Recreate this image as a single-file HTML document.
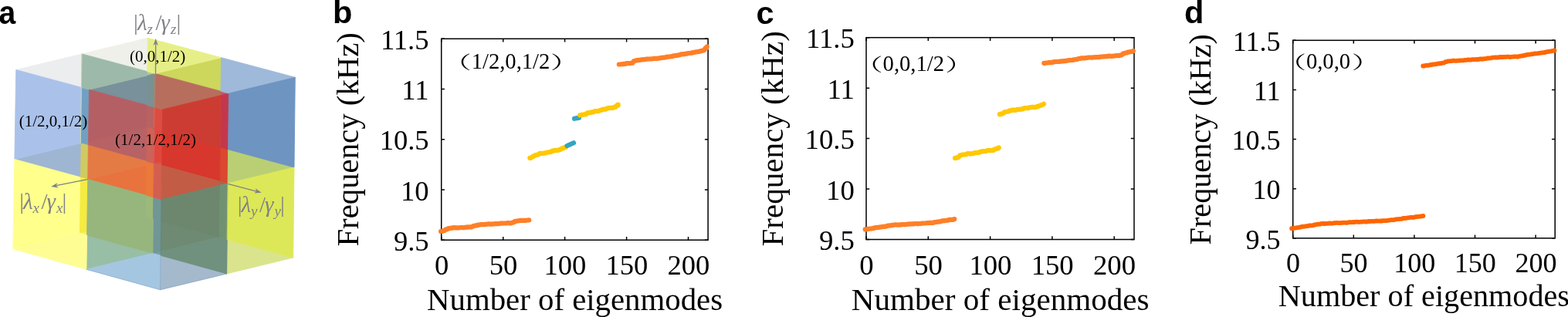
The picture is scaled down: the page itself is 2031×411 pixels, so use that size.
<!DOCTYPE html>
<html lang="en">
<head>
<meta charset="utf-8">
<title>Figure</title>
<style>
html,body{margin:0;padding:0;background:#fff;}
body{width:2031px;height:411px;overflow:hidden;}
svg{display:block;}
text{white-space:pre;}
</style>
</head>
<body>
<svg width="2031" height="411" viewBox="0 0 2031 411">
<rect width="2031" height="411" fill="#fff"/>
<g id="panel-a">
<g stroke-linejoin="round">
<polygon points="114.5,183.3 104.3,185.8 114.4,188.5" fill="rgb(118,160,193)" stroke="rgb(118,160,193)" stroke-width="0.9"/>
<polygon points="112.7,299.6 102.5,302.1 112.6,304.9" fill="rgb(245,240,100)" stroke="rgb(245,240,100)" stroke-width="0.9"/>
<polygon points="190.8,92.7 190.7,97.9 201.0,95.4" fill="rgb(185,200,150)" stroke="rgb(185,200,150)" stroke-width="0.9"/>
<polygon points="189.2,208.9 189.1,214.2 199.4,211.7" fill="rgb(234,120,58)" stroke="rgb(234,120,58)" stroke-width="0.9"/>
<polygon points="209.8,209.2 199.4,211.7 209.7,214.5" fill="rgb(215,85,70)" stroke="rgb(215,85,70)" stroke-width="0.9"/>
<polygon points="208.2,325.9 197.8,328.4 208.1,331.3" fill="rgb(120,158,165)" stroke="rgb(120,158,165)" stroke-width="0.9"/>
<polygon points="286.0,118.3 286.0,123.7 296.5,121.1" fill="rgb(190,90,100)" stroke="rgb(190,90,100)" stroke-width="0.9"/>
<polygon points="284.6,235.0 284.5,240.4 295.1,237.8" fill="rgb(150,110,90)" stroke="rgb(150,110,90)" stroke-width="0.9"/>
<polygon points="188.5,253.0 188.1,281.4 198.4,284.2 198.8,255.8" fill="rgb(155,185,122)" stroke="rgb(155,185,122)" stroke-width="0.9"/>
<polygon points="198.4,284.2 208.7,287.0 209.1,258.6 198.8,255.8" fill="rgb(112,150,150)" stroke="rgb(112,150,150)" stroke-width="0.9"/>
<polygon points="190.2,136.4 189.8,165.1 200.0,167.9 200.4,139.2" fill="rgb(185,98,98)" stroke="rgb(185,98,98)" stroke-width="0.9"/>
<polygon points="200.0,167.9 210.3,170.7 210.7,141.9 200.4,139.2" fill="rgb(222,75,65)" stroke="rgb(222,75,65)" stroke-width="0.9"/>
<polygon points="190.7,97.9 190.2,136.4 200.4,139.2 201.0,95.4" fill="rgb(119,146,146)" stroke="rgb(119,146,146)" stroke-width="0.9"/>
<polygon points="210.3,170.7 200.0,167.9 199.4,211.7 209.8,209.2" fill="rgb(225,70,60)" stroke="rgb(225,70,60)" stroke-width="0.9"/>
<polygon points="189.1,214.2 188.5,253.0 198.8,255.8 199.4,211.7" fill="rgb(235,121,57)" stroke="rgb(235,121,57)" stroke-width="0.9"/>
<polygon points="208.7,287.0 198.4,284.2 197.8,328.4 208.2,325.9" fill="rgb(112,150,150)" stroke="rgb(112,150,150)" stroke-width="0.9"/>
<polygon points="104.3,185.8 103.6,229.7 113.7,232.5 114.4,188.5" fill="rgb(208,202,98)" stroke="rgb(208,202,98)" stroke-width="0.9"/>
<polygon points="189.8,165.1 189.2,208.9 199.4,211.7 200.0,167.9" fill="rgb(205,98,88)" stroke="rgb(205,98,88)" stroke-width="0.9"/>
<polygon points="199.4,211.7 198.8,255.8 209.1,258.6 209.7,214.5" fill="rgb(210,95,80)" stroke="rgb(210,95,80)" stroke-width="0.9"/>
<polygon points="285.1,191.0 284.6,235.0 295.1,237.8 295.6,193.8" fill="rgb(218,72,48)" stroke="rgb(218,72,48)" stroke-width="0.9"/>
<polygon points="104.3,185.8 114.5,183.3 115.5,116.2 105.4,113.4" fill="rgb(113,160,195)" stroke="rgb(113,160,195)" stroke-width="0.9"/>
<polygon points="102.5,302.1 112.7,299.6 113.7,232.5 103.6,229.7" fill="rgb(245,235,65)" stroke="rgb(245,235,65)" stroke-width="0.9"/>
<polygon points="286.0,123.7 285.1,191.0 295.6,193.8 296.5,121.1" fill="rgb(195,55,78)" stroke="rgb(195,55,78)" stroke-width="0.9"/>
<polygon points="283.6,307.6 294.1,310.5 295.1,237.8 284.5,240.4" fill="rgb(113,146,114)" stroke="rgb(113,146,114)" stroke-width="0.9"/>
<polygon points="190.2,136.4 190.7,97.9 115.5,116.2" fill="rgb(120,145,155)" stroke="rgb(120,145,155)" stroke-width="0.9"/>
<polygon points="285.1,191.0 210.3,170.7 209.8,209.2" fill="rgb(215,55,45)" stroke="rgb(215,55,45)" stroke-width="0.9"/>
<polygon points="188.5,253.0 189.1,214.2 113.7,232.5" fill="rgb(232,115,62)" stroke="rgb(232,115,62)" stroke-width="0.9"/>
<polygon points="283.6,307.6 208.7,287.0 208.2,325.9" fill="rgb(110,138,114)" stroke="rgb(110,138,114)" stroke-width="0.9"/>
<polygon points="189.2,208.9 189.8,165.1 114.5,183.3 114.4,188.5" fill="rgb(184,98,102)" stroke="rgb(184,98,102)" stroke-width="0.9"/>
<polygon points="190.8,92.7 191.4,49.2 106.1,69.9" fill="rgb(239,240,233)" stroke="rgb(239,240,233)" stroke-width="0.9"/>
<polygon points="189.1,214.2 189.2,208.9 114.4,188.5 113.7,232.5" fill="rgb(228,122,68)" stroke="rgb(228,122,68)" stroke-width="0.9"/>
<polygon points="106.1,69.9 20.8,90.5 105.4,113.4" fill="rgb(236,237,239)" stroke="rgb(236,237,239)" stroke-width="0.9"/>
<polygon points="284.6,235.0 285.1,191.0 209.8,209.2 209.7,214.5" fill="rgb(215,55,45)" stroke="rgb(215,55,45)" stroke-width="0.9"/>
<polygon points="284.5,240.4 284.6,235.0 209.7,214.5 209.1,258.6" fill="rgb(195,92,68)" stroke="rgb(195,92,68)" stroke-width="0.9"/>
<polygon points="286.0,118.3 286.6,74.7 201.0,95.4" fill="rgb(204,215,92)" stroke="rgb(204,215,92)" stroke-width="0.9"/>
<polygon points="104.3,185.8 18.9,206.5 103.6,229.7" fill="rgb(158,182,210)" stroke="rgb(158,182,210)" stroke-width="0.9"/>
<polygon points="381.0,217.0 295.6,193.8 295.1,237.8" fill="rgb(186,207,116)" stroke="rgb(186,207,116)" stroke-width="0.9"/>
<polygon points="197.8,328.4 112.6,304.9 111.9,349.2" fill="rgb(152,190,165)" stroke="rgb(152,190,165)" stroke-width="0.9"/>
<polygon points="379.7,334.0 294.1,310.5 293.6,354.9" fill="rgb(218,228,140)" stroke="rgb(218,228,140)" stroke-width="0.9"/>
<polygon points="293.6,354.9 208.1,331.3 207.5,375.7" fill="rgb(165,185,205)" stroke="rgb(165,185,205)" stroke-width="0.9"/>
<polygon points="190.7,97.9 190.8,92.7 106.1,69.9 105.4,113.4 115.5,116.2" fill="rgb(157,185,170)" stroke="rgb(157,185,170)" stroke-width="0.9"/>
<polygon points="286.0,123.7 286.0,118.3 201.0,95.4 200.4,139.2 210.7,141.9" fill="rgb(183,110,92)" stroke="rgb(183,110,92)" stroke-width="0.9"/>
<polygon points="191.4,49.2 190.8,92.7 201.0,95.4 286.6,74.7" fill="rgb(230,239,135)" stroke="rgb(230,239,135)" stroke-width="0.9"/>
<polygon points="198.4,284.2 188.1,281.4 112.7,299.6 112.6,304.9 197.8,328.4" fill="rgb(150,182,125)" stroke="rgb(150,182,125)" stroke-width="0.9"/>
<polygon points="286.6,74.7 286.0,118.3 296.5,121.1 382.3,100.3" fill="rgb(158,185,218)" stroke="rgb(158,185,218)" stroke-width="0.9"/>
<polygon points="102.5,302.1 16.9,322.8 111.9,349.2 112.6,304.9" fill="rgb(253,253,148)" stroke="rgb(253,253,148)" stroke-width="0.9"/>
<polygon points="294.1,310.5 283.6,307.6 208.2,325.9 208.1,331.3 293.6,354.9" fill="rgb(111,145,125)" stroke="rgb(111,145,125)" stroke-width="0.9"/>
<polygon points="208.1,331.3 197.8,328.4 111.9,349.2 207.5,375.7" fill="rgb(165,198,225)" stroke="rgb(165,198,225)" stroke-width="0.9"/>
<polygon points="188.1,281.4 188.5,253.0 113.7,232.5 112.7,299.6" fill="rgb(150,182,125)" stroke="rgb(150,182,125)" stroke-width="0.9"/>
<polygon points="208.7,287.0 283.6,307.6 284.5,240.4 209.1,258.6" fill="rgb(108,135,110)" stroke="rgb(108,135,110)" stroke-width="0.9"/>
<polygon points="189.8,165.1 190.2,136.4 115.5,116.2 114.5,183.3" fill="rgb(180,95,100)" stroke="rgb(180,95,100)" stroke-width="0.9"/>
<polygon points="210.3,170.7 285.1,191.0 286.0,123.7 210.7,141.9" fill="rgb(205,60,50)" stroke="rgb(205,60,50)" stroke-width="0.9"/>
<polygon points="18.9,206.5 104.3,185.8 105.4,113.4 20.8,90.5" fill="rgb(170,194,234)" stroke="rgb(170,194,234)" stroke-width="0.9"/>
<polygon points="16.9,322.8 102.5,302.1 103.6,229.7 18.9,206.5" fill="rgb(255,255,140)" stroke="rgb(255,255,140)" stroke-width="0.9"/>
<polygon points="295.6,193.8 381.0,217.0 382.3,100.3 296.5,121.1" fill="rgb(110,148,193)" stroke="rgb(110,148,193)" stroke-width="0.9"/>
<polygon points="294.1,310.5 379.7,334.0 381.0,217.0 295.1,237.8" fill="rgb(220,232,88)" stroke="rgb(220,232,88)" stroke-width="0.9"/>
</g>
<g fill="none" stroke-linecap="round"><path d="M209.1 258.6L207.5 375.7" stroke="#5a7d96" stroke-opacity="0.45" stroke-width="0.7"/><path d="M111.9 349.2L207.5 375.7L293.6 354.9" stroke="#6f95bd" stroke-opacity="0.5" stroke-width="0.7"/><path d="M293.6 354.9L295.1 237.8" stroke="#5a7d8a" stroke-opacity="0.35" stroke-width="0.7"/><path d="M106.1 69.9L104.3 185.8" stroke="#e8e88a" stroke-opacity="0.8" stroke-width="0.7"/><path d="M201.0 96.5L199.6 165" stroke="#e09060" stroke-opacity="0.6" stroke-width="0.6"/></g>
<line x1="201.5" y1="96.0" x2="201.7" y2="56.5" stroke="#808086" stroke-width="1.3"/>
<polygon points="201.7,50.0 204.9,59.0 201.7,56.5 198.5,59.0" fill="#808086"/>
<line x1="113.0" y1="232.7" x2="72.6" y2="240.7" stroke="#808086" stroke-width="1.3"/>
<polygon points="66.2,242.0 74.4,237.1 72.6,240.7 75.7,243.4" fill="#808086"/>
<line x1="295.2" y1="238.3" x2="332.4" y2="248.1" stroke="#808086" stroke-width="1.3"/>
<polygon points="338.7,249.7 329.2,250.5 332.4,248.1 330.8,244.3" fill="#808086"/>
<g font-family='"Liberation Serif", serif' fill="#808086"><text x="173.1" y="39.3" font-size="29">|</text><text x="177.9" y="39.3" font-size="29" font-style="italic">λ</text><text x="190.4" y="43.8" font-size="19" font-style="italic">z</text><text x="201.4" y="39.3" font-size="29">/</text><text x="208.4" y="39.3" font-size="29" font-style="italic">γ</text><text x="220.9" y="43.8" font-size="19" font-style="italic">z</text><text x="228.4" y="39.3" font-size="29">|</text></g>
<g font-family='"Liberation Serif", serif' fill="#808086"><text x="25.2" y="271.3" font-size="29">|</text><text x="30.0" y="271.3" font-size="29" font-style="italic">λ</text><text x="42.5" y="275.8" font-size="19" font-style="italic">x</text><text x="53.5" y="271.3" font-size="29">/</text><text x="60.5" y="271.3" font-size="29" font-style="italic">γ</text><text x="73.0" y="275.8" font-size="19" font-style="italic">x</text><text x="80.5" y="271.3" font-size="29">|</text></g>
<g font-family='"Liberation Serif", serif' fill="#808086"><text x="307.7" y="275.3" font-size="29">|</text><text x="312.5" y="275.3" font-size="29" font-style="italic">λ</text><text x="325.0" y="279.8" font-size="19" font-style="italic">y</text><text x="336.0" y="275.3" font-size="29">/</text><text x="343.0" y="275.3" font-size="29" font-style="italic">γ</text><text x="355.5" y="279.8" font-size="19" font-style="italic">y</text><text x="363.0" y="275.3" font-size="29">|</text></g>
<text x="168" y="79.8" font-family='"Liberation Serif", serif' font-size="21" fill="#000">(0,0,1/2)</text>
<text x="24.7" y="164.1" font-family='"Liberation Serif", serif' font-size="21" fill="#000">(1/2,0,1/2)</text>
<text x="149.1" y="187.5" font-family='"Liberation Serif", serif' font-size="21" fill="#000">(1/2,1/2,1/2)</text>
<text transform="translate(-1.4 30.7) scale(0.93 1)" font-family='"Liberation Sans", sans-serif' font-weight="bold" font-size="42" fill="#000">a</text>
</g>
<g id="panel-b">
<text x="431" y="30.4" font-family='"Liberation Sans", sans-serif' font-weight="bold" font-size="41.5" fill="#000">b</text>
<rect x="571.7" y="50.3" width="345.4" height="260.9" fill="none" stroke="#000" stroke-width="1.5"/>
<path d="M571.7 311.2v-4.2M571.7 50.3v4.2M651.7 311.2v-4.2M651.7 50.3v4.2M731.6 311.2v-4.2M731.6 50.3v4.2M811.6 311.2v-4.2M811.6 50.3v4.2M891.5 311.2v-4.2M891.5 50.3v4.2M571.7 50.3h4.2M917.1 50.3h-4.2M571.7 115.5h4.2M917.1 115.5h-4.2M571.7 180.8h4.2M917.1 180.8h-4.2M571.7 246.0h4.2M917.1 246.0h-4.2M571.7 311.2h4.2M917.1 311.2h-4.2" stroke="#000" stroke-width="1.5" fill="none"/>
<polyline points="571.0,300.0 572.6,300.0 574.2,299.0 575.8,299.0 577.4,297.4 579.0,297.4 580.6,296.2 582.2,296.2 583.8,295.7 585.4,295.7 587.0,295.2 588.6,295.2 590.2,295.4 591.8,295.4 593.4,295.3 595.0,295.3 596.6,295.0 598.2,295.0 599.8,295.1 601.4,295.1 603.0,294.7 604.6,294.7 606.2,294.4 607.8,294.4 609.4,294.4 611.0,294.4 612.6,293.1 614.2,293.1 615.8,292.3 617.4,292.3 619.0,291.6 620.6,291.6 622.2,291.1 623.8,291.1 625.4,291.1 627.0,291.1 628.6,290.8 630.2,290.8 631.8,290.4 633.4,290.4 635.0,290.7 636.6,290.7 638.2,290.3 639.8,290.3 641.4,290.2 643.0,290.2 644.6,290.1 646.2,290.1 647.8,289.6 649.4,289.6 651.0,289.5 652.6,289.5 654.2,289.5 655.8,289.5 657.4,289.1 659.0,289.1 660.6,289.3 662.2,289.3 663.8,288.4 665.4,288.4 667.0,286.8 668.6,286.8 670.2,286.4 671.8,286.4 673.4,285.9 675.0,285.9 676.6,285.8 678.2,285.8 679.8,285.8 681.4,285.8 683.0,285.5 684.6,285.5 685.3,285.3" fill="none" stroke="#ff7f27" stroke-width="6.2" stroke-linecap="round" stroke-linejoin="round"/>
<polyline points="686.3,204.8 687.9,204.8 689.5,203.0 691.1,203.0 692.7,201.3 694.3,201.3 695.9,200.5 697.5,200.5 699.1,198.8 700.7,198.8 702.3,198.8 703.9,198.8 705.5,198.4 707.1,198.4 708.7,197.5 710.3,197.5 711.9,197.1 713.5,197.1 715.1,195.7 716.7,195.7 718.3,194.8 719.9,194.8 721.5,194.8 723.1,194.8 724.7,193.8 726.3,193.8 727.9,192.3 729.5,192.3 731.1,191.0 732.7,191.0 733.0,190.4" fill="none" stroke="#ffc800" stroke-width="6.2" stroke-linecap="round" stroke-linejoin="round"/>
<polyline points="734.6,189.0 743.0,185.2" fill="none" stroke="#32a5c3" stroke-width="6.2" stroke-linecap="round" stroke-linejoin="round"/>
<polyline points="744.0,153.8 750.0,152.6" fill="none" stroke="#32a5c3" stroke-width="6.2" stroke-linecap="round" stroke-linejoin="round"/>
<polyline points="751.2,149.4 752.8,149.4 754.4,148.6 756.0,148.6 757.6,148.1 759.2,148.1 760.8,146.4 762.4,146.4 764.0,145.8 765.6,145.8 767.2,145.3 768.8,145.3 770.4,144.1 772.0,144.1 773.6,144.1 775.2,144.1 776.8,143.1 778.4,143.1 780.0,141.9 781.6,141.9 783.2,141.7 784.8,141.7 786.4,140.3 788.0,140.3 789.6,139.8 791.2,139.8 792.8,139.8 794.4,139.8 796.0,138.6 797.6,138.6 799.2,136.5 800.6,136.5 800.6,135.5" fill="none" stroke="#ffc800" stroke-width="6.2" stroke-linecap="round" stroke-linejoin="round"/>
<polyline points="801.8,83.5 803.4,83.5 805.0,83.2 806.6,83.2 808.2,82.9 809.8,82.9 811.4,82.2 813.0,82.2 814.6,82.0 816.2,82.0 817.8,81.7 819.4,81.7 821.0,79.0 822.6,79.0 824.2,78.2 825.8,78.2 827.4,77.8 829.0,77.8 830.6,77.4 832.2,77.4 833.8,77.2 835.4,77.2 837.0,76.6 838.6,76.6 840.2,76.5 841.8,76.5 843.4,76.4 845.0,76.4 846.6,75.9 848.2,75.9 849.8,75.9 851.4,75.9 853.0,75.5 854.6,75.5 856.2,74.9 857.8,74.9 859.4,74.7 861.0,74.7 862.6,73.9 864.2,73.9 865.8,73.5 867.4,73.5 869.0,73.2 870.6,73.2 872.2,72.3 873.8,72.3 875.4,71.9 877.0,71.9 878.6,71.3 880.2,71.3 881.8,70.4 883.4,70.4 885.0,70.2 886.6,70.2 888.2,69.6 889.8,69.6 891.4,69.0 893.0,69.0 894.6,68.7 896.2,68.7 897.8,67.9 899.4,67.9 901.0,67.3 902.6,67.3 904.2,66.9 905.8,66.9 907.4,66.1 909.0,66.1 910.6,65.2 912.2,65.2 913.8,62.1 915.4,62.1 915.7,60.4" fill="none" stroke="#ff7f27" stroke-width="6.2" stroke-linecap="round" stroke-linejoin="round"/>
<g font-family='"Liberation Serif", "Noto Serif CJK SC", serif' font-size="36.5" fill="#000">
<text x="572.0" y="356.4" text-anchor="middle">0</text>
<text x="652.0" y="356.4" text-anchor="middle">50</text>
<text x="731.9" y="356.4" text-anchor="middle">100</text>
<text x="811.9" y="356.4" text-anchor="middle">150</text>
<text x="891.8" y="356.4" text-anchor="middle">200</text>
<text x="555.5" y="63.9" text-anchor="end">11.5</text>
<text x="555.5" y="129.1" text-anchor="end">11</text>
<text x="555.5" y="194.3" text-anchor="end">10.5</text>
<text x="555.5" y="259.6" text-anchor="end">10</text>
<text x="555.5" y="324.8" text-anchor="end">9.5</text>
</g>
<text x="553.1" y="401.5" font-family='"Liberation Serif", "Noto Serif CJK SC", serif' font-size="40.8" fill="#000">Number of eigenmodes</text>
<text transform="translate(464.3 319.6) rotate(-90)" font-family='"Liberation Serif", "Noto Serif CJK SC", serif' font-size="40.8" fill="#000">Frequency (kHz)</text>
<text transform="translate(573.8 88.6) scale(1.6 1)" font-family='"Liberation Serif", "Noto Serif CJK SC", serif' font-size="23" fill="#000">（</text>
<text x="610.7" y="88.9" font-family='"Liberation Serif", "Noto Serif CJK SC", serif' font-size="28.6" fill="#000">1/2,0,1/2</text>
<text transform="translate(713.1 88.6) scale(1.6 1)" font-family='"Liberation Serif", "Noto Serif CJK SC", serif' font-size="23" fill="#000">）</text>
</g>
<g id="panel-c">
<text x="979.5" y="30.9" font-family='"Liberation Sans", sans-serif' font-weight="bold" font-size="41.5" fill="#000">c</text>
<rect x="1122" y="48.7" width="347.0" height="261.8" fill="none" stroke="#000" stroke-width="1.5"/>
<path d="M1122.0 310.5v-4.2M1122.0 48.7v4.2M1202.3 310.5v-4.2M1202.3 48.7v4.2M1282.6 310.5v-4.2M1282.6 48.7v4.2M1362.9 310.5v-4.2M1362.9 48.7v4.2M1443.2 310.5v-4.2M1443.2 48.7v4.2M1122 48.7h4.2M1469 48.7h-4.2M1122 114.2h4.2M1469 114.2h-4.2M1122 179.6h4.2M1469 179.6h-4.2M1122 245.1h4.2M1469 245.1h-4.2M1122 310.5h4.2M1469 310.5h-4.2" stroke="#000" stroke-width="1.5" fill="none"/>
<polyline points="1120.7,297.4 1122.3,297.4 1123.9,296.8 1125.5,296.8 1127.1,296.5 1128.7,296.5 1130.3,295.9 1131.9,295.9 1133.5,295.1 1135.1,295.1 1136.7,294.9 1138.3,294.9 1139.9,294.3 1141.5,294.3 1143.1,293.9 1144.7,293.9 1146.3,293.6 1147.9,293.6 1149.5,292.7 1151.1,292.7 1152.7,292.3 1154.3,292.3 1155.9,291.8 1157.5,291.8 1159.1,291.4 1160.7,291.4 1162.3,291.6 1163.9,291.6 1165.5,291.4 1167.1,291.4 1168.7,291.0 1170.3,291.0 1171.9,291.1 1173.5,291.1 1175.1,290.6 1176.7,290.6 1178.3,290.4 1179.9,290.4 1181.5,290.4 1183.1,290.4 1184.7,290.0 1186.3,290.0 1187.9,290.1 1189.5,290.1 1191.1,290.0 1192.7,290.0 1194.3,289.5 1195.9,289.5 1197.5,289.5 1199.1,289.5 1200.7,289.1 1202.3,289.1 1203.9,288.9 1205.5,288.9 1207.1,288.8 1208.7,288.8 1210.3,288.1 1211.9,288.1 1213.5,287.7 1215.1,287.7 1216.7,287.3 1218.3,287.3 1219.9,286.4 1221.5,286.4 1223.1,286.1 1224.7,286.1 1226.3,285.6 1227.9,285.6 1229.5,284.9 1231.1,284.9 1232.7,284.8 1234.3,284.8 1235.9,284.1 1236.3,284.1 1236.3,284.0" fill="none" stroke="#ff7f27" stroke-width="6.2" stroke-linecap="round" stroke-linejoin="round"/>
<polyline points="1237.0,204.9 1238.6,204.9 1240.2,203.8 1241.8,203.8 1243.4,201.3 1245.0,201.3 1246.6,200.5 1248.2,200.5 1249.8,200.3 1251.4,200.3 1253.0,199.1 1254.6,199.1 1256.2,199.4 1257.8,199.4 1259.4,199.0 1261.0,199.0 1262.6,198.0 1264.2,198.0 1265.8,198.0 1267.4,198.0 1269.0,196.8 1270.6,196.8 1272.2,196.1 1273.8,196.1 1275.4,196.2 1277.0,196.2 1278.6,195.2 1280.2,195.2 1281.8,195.2 1283.4,195.2 1285.0,194.9 1286.6,194.9 1288.2,193.4 1289.8,193.4 1291.4,192.4 1293.0,192.4 1293.7,191.5" fill="none" stroke="#ffc800" stroke-width="6.2" stroke-linecap="round" stroke-linejoin="round"/>
<polyline points="1294.9,148.2 1296.5,148.2 1298.1,147.0 1299.7,147.0 1301.3,145.0 1302.9,145.0 1304.5,144.7 1306.1,144.7 1307.7,143.4 1309.3,143.4 1310.9,142.7 1312.5,142.7 1314.1,142.9 1315.7,142.9 1317.3,141.9 1318.9,141.9 1320.5,141.8 1322.1,141.8 1323.7,141.3 1325.3,141.3 1326.9,140.0 1328.5,140.0 1330.1,140.1 1331.7,140.1 1333.3,139.4 1334.9,139.4 1336.5,138.8 1338.1,138.8 1339.7,139.2 1341.3,139.2 1342.9,138.1 1344.5,138.1 1346.1,137.0 1347.7,137.0 1349.3,135.8 1350.9,135.8 1352.0,134.8" fill="none" stroke="#ffc800" stroke-width="6.2" stroke-linecap="round" stroke-linejoin="round"/>
<polyline points="1352.3,81.8 1353.9,81.8 1355.5,81.5 1357.1,81.5 1358.7,81.1 1360.3,81.1 1361.9,80.8 1363.5,80.8 1365.1,80.1 1366.7,80.1 1368.3,80.0 1369.9,80.0 1371.5,79.8 1373.1,79.8 1374.7,79.3 1376.3,79.3 1377.9,79.2 1379.5,79.2 1381.1,78.7 1382.7,78.7 1384.3,78.1 1385.9,78.1 1387.5,78.0 1389.1,78.0 1390.7,77.4 1392.3,77.4 1393.9,76.9 1395.5,76.9 1397.1,76.0 1398.7,76.0 1400.3,75.4 1401.9,75.4 1403.5,75.4 1405.1,75.4 1406.7,75.0 1408.3,75.0 1409.9,74.5 1411.5,74.5 1413.1,74.6 1414.7,74.6 1416.3,74.3 1417.9,74.3 1419.5,74.1 1421.1,74.1 1422.7,74.1 1424.3,74.1 1425.9,73.5 1427.5,73.5 1429.1,73.3 1430.7,73.3 1432.3,73.2 1433.9,73.2 1435.5,72.7 1437.1,72.7 1438.7,72.8 1440.3,72.8 1441.9,72.6 1443.5,72.6 1445.1,72.2 1446.7,72.2 1448.3,72.2 1449.9,72.2 1451.5,71.3 1453.1,71.3 1454.7,69.4 1456.3,69.4 1457.9,68.5 1459.5,68.5 1461.1,67.5 1462.7,67.5 1464.3,67.0 1465.9,67.0 1467.5,66.1 1467.9,66.1 1467.9,66.0" fill="none" stroke="#ff7f27" stroke-width="6.2" stroke-linecap="round" stroke-linejoin="round"/>
<g font-family='"Liberation Serif", "Noto Serif CJK SC", serif' font-size="36.7" fill="#000">
<text x="1122.3" y="355.5" text-anchor="middle">0</text>
<text x="1202.6" y="355.5" text-anchor="middle">50</text>
<text x="1282.9" y="355.5" text-anchor="middle">100</text>
<text x="1363.2" y="355.5" text-anchor="middle">150</text>
<text x="1443.5" y="355.5" text-anchor="middle">200</text>
<text x="1106.8" y="62.4" text-anchor="end">11.5</text>
<text x="1106.8" y="127.9" text-anchor="end">11</text>
<text x="1106.8" y="193.3" text-anchor="end">10.5</text>
<text x="1106.8" y="258.8" text-anchor="end">10</text>
<text x="1106.8" y="324.2" text-anchor="end">9.5</text>
</g>
<text x="1102.8" y="402.2" font-family='"Liberation Serif", "Noto Serif CJK SC", serif' font-size="41.1" fill="#000">Number of eigenmodes</text>
<text transform="translate(1013.7 319.6) rotate(-90)" font-family='"Liberation Serif", "Noto Serif CJK SC", serif' font-size="41.1" fill="#000">Frequency (kHz)</text>
<text transform="translate(1106.8 91.5) scale(1.6 1)" font-family='"Liberation Serif", "Noto Serif CJK SC", serif' font-size="23" fill="#000">（</text>
<text x="1143.6" y="91.8" font-family='"Liberation Serif", "Noto Serif CJK SC", serif' font-size="28.6" fill="#000">0,0,1/2</text>
<text transform="translate(1224.2 91.5) scale(1.6 1)" font-family='"Liberation Serif", "Noto Serif CJK SC", serif' font-size="23" fill="#000">）</text>
</g>
<g id="panel-d">
<text x="1534" y="30.4" font-family='"Liberation Sans", sans-serif' font-weight="bold" font-size="41.5" fill="#000">d</text>
<rect x="1674.7" y="52.3" width="339.5" height="256.5" fill="none" stroke="#000" stroke-width="1.5"/>
<path d="M1674.7 308.8v-4.2M1674.7 52.3v4.2M1753.3 308.8v-4.2M1753.3 52.3v4.2M1831.9 308.8v-4.2M1831.9 52.3v4.2M1910.5 308.8v-4.2M1910.5 52.3v4.2M1989.1 308.8v-4.2M1989.1 52.3v4.2M1674.7 52.3h4.2M2014.2 52.3h-4.2M1674.7 116.4h4.2M2014.2 116.4h-4.2M1674.7 180.6h4.2M2014.2 180.6h-4.2M1674.7 244.7h4.2M2014.2 244.7h-4.2M1674.7 308.8h4.2M2014.2 308.8h-4.2" stroke="#000" stroke-width="1.5" fill="none"/>
<polyline points="1673.1,296.2 1674.7,296.2 1676.3,295.6 1677.9,295.6 1679.5,295.2 1681.1,295.2 1682.7,294.7 1684.3,294.7 1685.9,293.9 1687.5,293.9 1689.1,293.6 1690.7,293.6 1692.3,293.1 1693.9,293.1 1695.5,292.5 1697.1,292.5 1698.7,292.3 1700.3,292.3 1701.9,291.5 1703.5,291.5 1705.1,290.9 1706.7,290.9 1708.3,290.6 1709.9,290.6 1711.5,289.8 1713.1,289.8 1714.7,290.0 1716.3,290.0 1717.9,289.9 1719.5,289.9 1721.1,289.5 1722.7,289.5 1724.3,289.6 1725.9,289.6 1727.5,289.2 1729.1,289.2 1730.7,288.9 1732.3,288.9 1733.9,289.1 1735.5,289.1 1737.1,288.8 1738.7,288.8 1740.3,288.7 1741.9,288.7 1743.5,288.8 1745.1,288.8 1746.7,288.2 1748.3,288.2 1749.9,288.2 1751.5,288.2 1753.1,288.0 1754.7,288.0 1756.3,287.7 1757.9,287.7 1759.5,287.9 1761.1,287.9 1762.7,287.7 1764.3,287.7 1765.9,287.4 1767.5,287.4 1769.1,287.5 1770.7,287.5 1772.3,287.0 1773.9,287.0 1775.5,286.9 1777.1,286.9 1778.7,286.9 1780.3,286.9 1781.9,286.5 1783.5,286.5 1785.1,286.7 1786.7,286.7 1788.3,286.5 1789.9,286.5 1791.5,286.1 1793.1,286.1 1794.7,286.2 1796.3,286.2 1797.9,285.6 1799.5,285.6 1801.1,285.2 1802.7,285.2 1804.3,285.1 1805.9,285.1 1807.5,284.4 1809.1,284.4 1810.7,284.2 1812.3,284.2 1813.9,283.8 1815.5,283.8 1817.1,283.0 1818.7,283.0 1820.3,282.8 1821.9,282.8 1823.5,282.3 1825.1,282.3 1826.7,281.9 1828.3,281.9 1829.9,281.9 1831.5,281.9 1833.1,281.2 1834.7,281.2 1836.3,280.8 1837.9,280.8 1839.5,280.5 1841.1,280.5 1842.7,280.0 1843.4,280.0 1843.4,279.9" fill="none" stroke="#ff6600" stroke-width="5.8" stroke-linecap="round" stroke-linejoin="round"/>
<polyline points="1843.2,85.5 1844.8,85.5 1846.4,84.9 1848.0,84.9 1849.6,84.6 1851.2,84.6 1852.8,84.0 1854.4,84.0 1856.0,83.3 1857.6,83.3 1859.2,83.1 1860.8,83.1 1862.4,82.5 1864.0,82.5 1865.6,82.1 1867.2,82.1 1868.8,81.6 1870.4,81.6 1872.0,80.2 1873.6,80.2 1875.2,79.3 1876.8,79.3 1878.4,79.2 1880.0,79.2 1881.6,78.7 1883.2,78.7 1884.8,78.9 1886.4,78.9 1888.0,78.6 1889.6,78.6 1891.2,78.3 1892.8,78.3 1894.4,78.3 1896.0,78.3 1897.6,77.8 1899.2,77.8 1900.8,77.5 1902.4,77.5 1904.0,77.6 1905.6,77.6 1907.2,77.1 1908.8,77.1 1910.4,77.2 1912.0,77.2 1913.6,77.0 1915.2,77.0 1916.8,76.5 1918.4,76.5 1920.0,76.5 1921.6,76.5 1923.2,76.1 1924.8,76.1 1926.4,75.5 1928.0,75.5 1929.6,75.3 1931.2,75.3 1932.8,74.6 1934.4,74.6 1936.0,74.5 1937.6,74.5 1939.2,74.5 1940.8,74.5 1942.4,74.0 1944.0,74.0 1945.6,74.0 1947.2,74.0 1948.8,73.9 1950.4,73.9 1952.0,73.7 1953.6,73.7 1955.2,74.0 1956.8,74.0 1958.4,73.7 1960.0,73.7 1961.6,73.4 1963.2,73.4 1964.8,73.5 1966.4,73.5 1968.0,72.9 1969.6,72.9 1971.2,72.3 1972.8,72.3 1974.4,71.7 1976.0,71.7 1977.6,70.8 1979.2,70.8 1980.8,70.6 1982.4,70.6 1984.0,70.1 1985.6,70.1 1987.2,69.5 1988.8,69.5 1990.4,69.4 1992.0,69.4 1993.6,68.8 1995.2,68.8 1996.8,68.3 1998.4,68.3 2000.0,68.0 2001.6,68.0 2003.2,67.2 2004.8,67.2 2006.4,66.7 2008.0,66.7 2009.6,66.1 2011.2,66.1 2012.8,65.4 2013.5,65.4 2013.5,65.3" fill="none" stroke="#ff6600" stroke-width="5.8" stroke-linecap="round" stroke-linejoin="round"/>
<g font-family='"Liberation Serif", "Noto Serif CJK SC", serif' font-size="36.0" fill="#000">
<text x="1675.0" y="352.9" text-anchor="middle">0</text>
<text x="1753.6" y="352.9" text-anchor="middle">50</text>
<text x="1832.2" y="352.9" text-anchor="middle">100</text>
<text x="1910.8" y="352.9" text-anchor="middle">150</text>
<text x="1989.4" y="352.9" text-anchor="middle">200</text>
<text x="1658.5" y="66.0" text-anchor="end">11.5</text>
<text x="1658.5" y="130.1" text-anchor="end">11</text>
<text x="1658.5" y="194.2" text-anchor="end">10.5</text>
<text x="1658.5" y="258.4" text-anchor="end">10</text>
<text x="1658.5" y="322.5" text-anchor="end">9.5</text>
</g>
<text x="1655.8" y="397.4" font-family='"Liberation Serif", "Noto Serif CJK SC", serif' font-size="40.2" fill="#000">Number of eigenmodes</text>
<text transform="translate(1567.8 317.4) rotate(-90)" font-family='"Liberation Serif", "Noto Serif CJK SC", serif' font-size="40.2" fill="#000">Frequency (kHz)</text>
<text transform="translate(1655.3 89.1) scale(1.6 1)" font-family='"Liberation Serif", "Noto Serif CJK SC", serif' font-size="23" fill="#000">（</text>
<text x="1691.9" y="89.4" font-family='"Liberation Serif", "Noto Serif CJK SC", serif' font-size="28.6" fill="#000">0,0,0</text>
<text transform="translate(1750.8 89.1) scale(1.6 1)" font-family='"Liberation Serif", "Noto Serif CJK SC", serif' font-size="23" fill="#000">）</text>
</g>
</svg>
</body>
</html>
